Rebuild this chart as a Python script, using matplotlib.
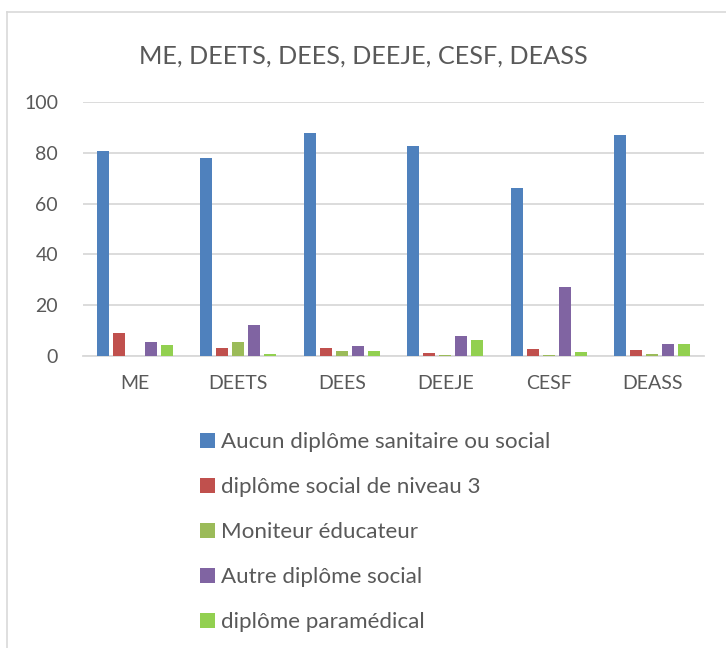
import matplotlib
matplotlib.use("Agg")
import matplotlib.pyplot as plt
from matplotlib.lines import Line2D
from matplotlib.patches import Patch
import numpy as np

plt.rcParams['font.family'] = ['Lato', 'DejaVu Sans']

categories = ["ME", "DEETS", "DEES", "DEEJE", "CESF", "DEASS"]
series_names = ["Aucun diplôme sanitaire ou social", "diplôme social de niveau 3",
                "Moniteur éducateur", "Autre diplôme social", "diplôme paramédical"]
aucun = [80.7, 78.0, 87.8, 82.7, 66.0, 87.2]
niveau3 = [8.9, 3.3, 3.1, 1.2, 2.9, 2.5]
moniteur = [0.0, 5.4, 2.0, 0.4, 0.2, 0.9]
autre = [5.6, 12.2, 3.8, 8.0, 27.1, 4.7]
paramedical = [4.2, 0.7, 2.1, 6.4, 1.7, 4.7]
series_values = [aucun, niveau3, moniteur, autre, paramedical]
colors = ["#4F81BD", "#C0504D", "#9BBB59", "#8064A2", "#92D050"]
yticks = [0, 20, 40, 60, 80, 100]
title = "ME, DEETS, DEES, DEEJE, CESF, DEASS"

txt = "#595959"
fig = plt.figure(figsize=(7.26, 6.48), dpi=100)
ax = fig.add_axes([83/726, 1-356/648, (704-83)/726, (356-102)/648])

x = np.arange(len(categories))
slot = 0.155
bw = 0.118
for i, (vals, c) in enumerate(zip(series_values, colors)):
    ax.bar(x + (i - 2) * slot, vals, width=bw, color=c, zorder=3, label=series_names[i])

ax.set_xlim(-0.5, len(categories) - 0.5)
ax.set_ylim(0, 100)
ax.set_yticks(yticks)
ax.set_xticks(x)
ax.set_xticklabels(categories)
ax.yaxis.grid(True, color="#D9D9D9", linewidth=1.3, zorder=0)
for s in ["top", "right", "left"]:
    ax.spines[s].set_visible(False)
ax.spines["bottom"].set_color("#D9D9D9")
ax.spines["bottom"].set_linewidth(1.3)
ax.tick_params(axis="both", length=0, labelsize=14, labelcolor=txt)
ax.tick_params(axis="y", pad=18)
ax.tick_params(axis="x", pad=14)

fig.text(0.5, 1-56/648, title, ha="center", va="center", fontsize=18.2, color=txt)

handles = [Patch(facecolor=c, edgecolor="none") for c in colors]
leg = fig.legend(handles, series_names, loc="upper left", bbox_to_anchor=(200/726, 1-432/648),
                 frameon=False, fontsize=16.1, labelspacing=1.12, handlelength=0.65,
                 handleheight=0.65, handletextpad=0.28, borderpad=0, borderaxespad=0)
for t in leg.get_texts():
    t.set_color(txt)

# chart border (left and top visible)
fig.add_artist(Line2D([7/726, 7/726], [0, 1-12/648], transform=fig.transFigure, color="#D9D9D9", linewidth=1.2))
fig.add_artist(Line2D([7/726, 1], [1-12/648, 1-12/648], transform=fig.transFigure, color="#D9D9D9", linewidth=1.2))

fig.savefig("out.png", dpi=100, facecolor="white")
